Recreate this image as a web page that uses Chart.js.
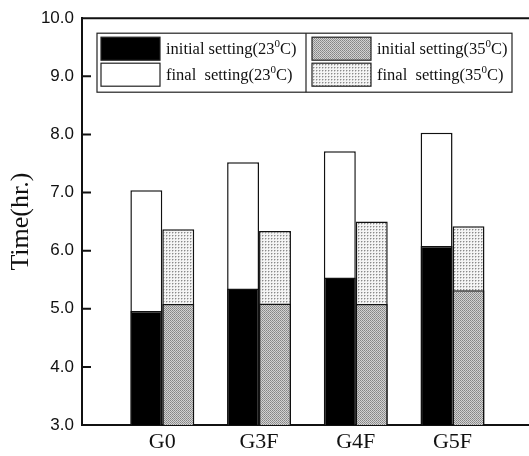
<!DOCTYPE html>
<html>
<head>
<meta charset="utf-8">
<script src="https://cdn.jsdelivr.net/npm/chart.js@4.4.0/dist/chart.umd.min.js"></script>
<style>
  body { margin: 0; background: #fff; }
  #wrap { width: 529px; height: 456px; }
</style>
</head>
<body>
<div id="wrap"><canvas id="chart" width="529" height="456"></canvas></div>
<script>
// Setting times per mix, hours
const groups = ["G0", "G3F", "G4F", "G5F"];
const initial23 = [4.96, 5.35, 5.54, 6.08];
const final23 = [7.04, 7.52, 7.71, 8.03];
const initial35 = [5.08, 5.09, 5.08, 5.32];
const final35 = [6.37, 6.34, 6.50, 6.42];
const seriesLabels = [
  "initial setting(23⁰C)",
  "final  setting(23⁰C)",
  "initial setting(35⁰C)",
  "final  setting(35⁰C)",
];

// Small tiled fills for the 35C bars
function makePattern(size, bg, dots) {
  const c = document.createElement("canvas");
  c.width = size;
  c.height = size;
  const g = c.getContext("2d");
  g.fillStyle = bg;
  g.fillRect(0, 0, size, size);
  for (const d of dots) {
    g.fillStyle = d[2];
    g.fillRect(d[0], d[1], 1, 1);
  }
  return g.createPattern(c, "repeat");
}
const ctx = document.getElementById("chart").getContext("2d");
const darkDots = makePattern(2, "#d2d2d2", [[0, 0, "#858585"], [1, 1, "#959595"]]);
const lightDots = makePattern(3, "#f4f4f4", [[1, 1, "#8a8a8a"], [2, 1, "#c8c8c8"], [1, 2, "#c8c8c8"]]);

const toPoints = (arr) => arr.map((v, i) => ({ x: i + 1, y: v }));

// Boxed two-column legend with raised "0"
const boxLegend = {
  id: "boxLegend",
  afterDraw(chart) {
    const c = chart.ctx;
    const a = chart.chartArea;
    const ds = chart.data.datasets;
    const x0 = a.left + 15, y0 = a.top + 15, w = 415, h = 59;
    const mid = x0 + 209;
    c.save();
    c.fillStyle = "#fff";
    c.fillRect(x0, y0, w, h);
    c.strokeStyle = "#222";
    c.lineWidth = 1.2;
    c.strokeRect(x0, y0, w, h);
    c.beginPath();
    c.moveTo(mid, y0);
    c.lineTo(mid, y0 + h);
    c.stroke();
    const cols = [x0 + 4, mid + 6];
    ds.forEach((d, i) => {
      const col = Math.floor(i / 2), row = i % 2;
      const sx = cols[col], sy = y0 + 4 + row * 26;
      c.fillStyle = d.backgroundColor;
      c.fillRect(sx, sy, 59, 23);
      c.strokeStyle = "#222";
      c.lineWidth = 1.2;
      c.strokeRect(sx, sy, 59, 23);
      // text, with the "0" set as superscript
      const parts = d.label.split("⁰");
      let tx = sx + 65;
      const ty = sy + 17;
      c.fillStyle = "#111";
      c.textBaseline = "alphabetic";
      c.font = "16.5px 'Liberation Serif', serif";
      c.fillText(parts[0], tx, ty);
      tx += c.measureText(parts[0]).width;
      c.font = "11px 'Liberation Serif', serif";
      c.fillText("0", tx, ty - 7);
      tx += c.measureText("0").width;
      c.font = "16.5px 'Liberation Serif', serif";
      c.fillText(parts[1], tx, ty);
    });
    c.restore();
  },
};

// Top frame line and inward y ticks
const frame = {
  id: "frame",
  afterDatasetsDraw(chart) {
    const c = chart.ctx;
    const a = chart.chartArea;
    const y = chart.scales.y;
    c.save();
    c.strokeStyle = "#111";
    c.lineWidth = 2;
    c.beginPath();
    c.moveTo(a.left, a.top);
    c.lineTo(chart.width, a.top);
    y.ticks.forEach((t) => {
      const py = y.getPixelForValue(t.value);
      c.moveTo(a.left, py);
      c.lineTo(a.left + 9, py);
    });
    c.stroke();
    c.restore();
  },
};

const barStyle = {
  borderColor: "#111",
  borderWidth: 1.5,
  borderSkipped: false,
};

new Chart(ctx, {
  type: "bar",
  plugins: [frame, boxLegend],
  data: {
    datasets: [
      { label: seriesLabels[0], stack: "23", data: toPoints(initial23), backgroundColor: "#000", ...barStyle },
      { label: seriesLabels[1], stack: "23", data: toPoints(final23), backgroundColor: "#fff", ...barStyle },
      { label: seriesLabels[2], stack: "35", data: toPoints(initial35), backgroundColor: darkDots, ...barStyle },
      { label: seriesLabels[3], stack: "35", data: toPoints(final35), backgroundColor: lightDots, ...barStyle },
    ],
  },
  options: {
    responsive: false,
    animation: false,
    categoryPercentage: 0.66,
    barPercentage: 1.0,
    layout: { padding: { top: 16, right: 1, left: 0, bottom: 0 } },
    plugins: {
      legend: { display: false },
      tooltip: { enabled: false },
    },
    scales: {
      x: {
        type: "linear",
        stacked: true,
        offset: false,
        min: 0.17,
        max: 4.78,
        grid: { display: false, drawTicks: false },
        border: { display: true, color: "#111", width: 2 },
        afterBuildTicks: (scale) => {
          scale.ticks = groups.map((g, i) => ({ value: i + 1 }));
        },
        afterFit: (scale) => { scale.height = 31; },
        ticks: {
          padding: 4,
          color: "#111",
          font: { family: "'Liberation Serif', serif", size: 22 },
          callback: (v) => groups[v - 1],
        },
      },
      y: {
        stacked: false,
        min: 3,
        max: 10,
        grid: { display: false, drawTicks: false },
        border: { display: true, color: "#111", width: 2 },
        afterFit: (scale) => { scale.width = 82; },
        ticks: {
          stepSize: 1,
          padding: 8,
          color: "#111",
          font: { family: "'Liberation Sans', Arial, sans-serif", size: 17 },
          callback: (v) => v.toFixed(1),
        },
        title: {
          display: true,
          text: "Time(hr.)",
          color: "#111",
          padding: { top: 6, bottom: 4 },
          font: { family: "'Liberation Serif', serif", size: 26 },
        },
      },
    },
  },
});
</script>
</body>
</html>
